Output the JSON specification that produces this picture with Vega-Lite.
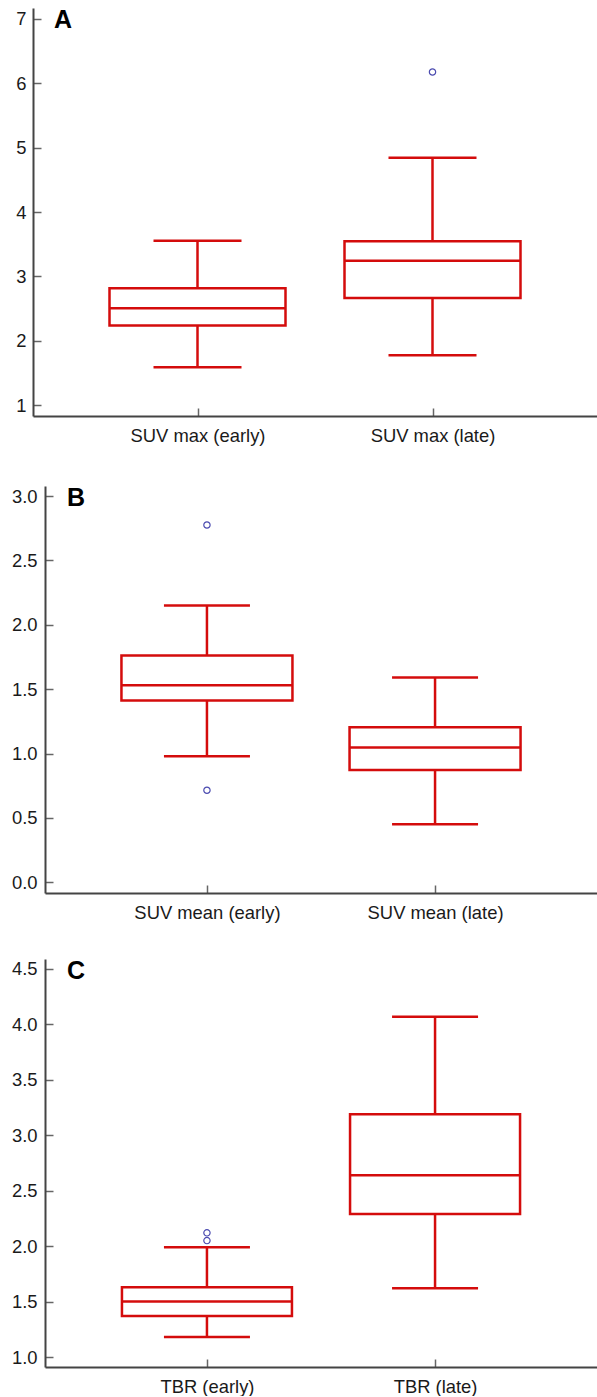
{
  "$schema": "https://vega.github.io/schema/vega-lite/v6.json",
  "padding": {"left": 3, "top": 8, "right": 0, "bottom": 0},
  "datasets": {
    "A_box": [
      {"cat": "SUV max (early)", "lower": 1.59, "q1": 2.24, "median": 2.505, "q3": 2.816, "upper": 3.555},
      {"cat": "SUV max (late)", "lower": 1.776, "q1": 2.665, "median": 3.244, "q3": 3.545, "upper": 4.843}
    ],
    "A_out": [
      {"cat": "SUV max (late)", "value": 6.173}
    ],
    "B_box": [
      {"cat": "SUV mean (early)", "lower": 0.979, "q1": 1.412, "median": 1.531, "q3": 1.762, "upper": 2.15},
      {"cat": "SUV mean (late)", "lower": 0.451, "q1": 0.873, "median": 1.047, "q3": 1.205, "upper": 1.591}
    ],
    "B_out": [
      {"cat": "SUV mean (early)", "value": 2.775},
      {"cat": "SUV mean (early)", "value": 0.715}
    ],
    "C_box": [
      {"cat": "TBR (early)", "lower": 1.18, "q1": 1.37, "median": 1.5, "q3": 1.63, "upper": 1.99},
      {"cat": "TBR (late)", "lower": 1.62, "q1": 2.29, "median": 2.64, "q3": 3.19, "upper": 4.07}
    ],
    "C_out": [
      {"cat": "TBR (early)", "value": 2.12},
      {"cat": "TBR (early)", "value": 2.05}
    ]
  },
  "concat": [
    {
      "width": 564,
      "height": 408,
      "title": {"text": "A", "anchor": "start", "frame": "group", "dx": 21, "offset": -45, "baseline": "alphabetic"},
      "data": {"name": "A_box"},
      "encoding": {
        "x": {"field": "cat", "type": "nominal", "scale": {"type": "point", "padding": 0.7, "domain": ["SUV max (early)", "SUV max (late)"]},
          "axis": {"title": null, "labelAngle": 0, "labelPadding": 18, "minExtent": 40, "maxExtent": 40}}
      },
      "resolve": {"axis": {"y": "independent"}},
      "layer": [
        {"mark": {"type": "rule", "color": "#d40c0c", "strokeWidth": 2.5},
          "encoding": {"y": {"field": "lower", "type": "quantitative", "scale": {"domain": [0.834, 7.166], "nice": false, "zero": false},
            "axis": {"title": null, "values": [1, 1.5, 2, 2.5, 3, 3.5, 4, 4.5, 5, 5.5, 6, 6.5, 7], "format": "d", "labelExpr": "datum.value % 1 === 0 ? datum.label : ''",
              "tickColor": {"condition": {"test": "datum.value % 1 !== 0", "value": "#c00000"}, "value": "#666666"},
              "tickSize": {"condition": {"test": "datum.value % 1 !== 0", "value": -4}, "value": -8},
              "labelPadding": 15, "minExtent": 30, "maxExtent": 30}},
            "y2": {"field": "q1"}}},
        {"mark": {"type": "rule", "color": "#d40c0c", "strokeWidth": 2.5},
          "encoding": {"y": {"field": "q3", "type": "quantitative", "scale": {"domain": [0.834, 7.166], "nice": false, "zero": false}, "axis": null}, "y2": {"field": "upper"}}},
        {"mark": {"type": "bar", "width": 176, "fill": "white", "stroke": "#d40c0c", "strokeWidth": 2.5},
          "encoding": {"y": {"field": "q1", "type": "quantitative", "scale": {"domain": [0.834, 7.166], "nice": false, "zero": false}, "axis": null}, "y2": {"field": "q3"}}},
        {"mark": {"type": "tick", "color": "#d40c0c", "opacity": 1, "thickness": 2.5, "size": 176, "orient": "horizontal"},
          "encoding": {"y": {"field": "median", "type": "quantitative", "scale": {"domain": [0.834, 7.166], "nice": false, "zero": false}, "axis": null}}},
        {"mark": {"type": "tick", "color": "#d40c0c", "opacity": 1, "thickness": 2.5, "size": 88, "orient": "horizontal"},
          "encoding": {"y": {"field": "upper", "type": "quantitative", "scale": {"domain": [0.834, 7.166], "nice": false, "zero": false}, "axis": null}}},
        {"mark": {"type": "tick", "color": "#d40c0c", "opacity": 1, "thickness": 2.5, "size": 88, "orient": "horizontal"},
          "encoding": {"y": {"field": "lower", "type": "quantitative", "scale": {"domain": [0.834, 7.166], "nice": false, "zero": false}, "axis": null}}},
        {"data": {"name": "A_out"},
          "mark": {"type": "point", "shape": "circle", "filled": false, "color": "#4b4bb0", "size": 40, "strokeWidth": 1.2, "opacity": 1},
          "encoding": {"y": {"field": "value", "type": "quantitative", "scale": {"domain": [0.834, 7.166], "nice": false, "zero": false}, "axis": null}}}
      ]
    },
    {
      "width": 564,
      "height": 407,
      "title": {"text": "B", "anchor": "start", "frame": "group", "dx": 34, "offset": -45, "baseline": "alphabetic"},
      "data": {"name": "B_box"},
      "encoding": {
        "x": {"field": "cat", "type": "nominal", "scale": {"type": "point", "padding": 0.71, "range": [12, 564], "domain": ["SUV mean (early)", "SUV mean (late)"]},
          "axis": {"title": null, "labelAngle": 0, "labelPadding": 18, "minExtent": 36, "maxExtent": 36}}
      },
      "resolve": {"axis": {"y": "independent"}},
      "layer": [
        {"mark": {"type": "rule", "color": "#d40c0c", "strokeWidth": 2.5},
          "encoding": {"y": {"field": "lower", "type": "quantitative", "scale": {"domain": [-0.083, 3.078], "nice": false, "zero": false},
            "axis": {"title": null, "values": [0, 0.5, 1, 1.5, 2, 2.5, 3], "format": ".1f", "labelPadding": 16, "offset": -12, "minExtent": 42, "maxExtent": 42}},
            "y2": {"field": "q1"}}},
        {"mark": {"type": "rule", "color": "#d40c0c", "strokeWidth": 2.5},
          "encoding": {"y": {"field": "q3", "type": "quantitative", "scale": {"domain": [-0.083, 3.078], "nice": false, "zero": false}, "axis": null}, "y2": {"field": "upper"}}},
        {"mark": {"type": "bar", "width": 171, "fill": "white", "stroke": "#d40c0c", "strokeWidth": 2.5},
          "encoding": {"y": {"field": "q1", "type": "quantitative", "scale": {"domain": [-0.083, 3.078], "nice": false, "zero": false}, "axis": null}, "y2": {"field": "q3"}}},
        {"mark": {"type": "tick", "color": "#d40c0c", "opacity": 1, "thickness": 2.5, "size": 171, "orient": "horizontal"},
          "encoding": {"y": {"field": "median", "type": "quantitative", "scale": {"domain": [-0.083, 3.078], "nice": false, "zero": false}, "axis": null}}},
        {"mark": {"type": "tick", "color": "#d40c0c", "opacity": 1, "thickness": 2.5, "size": 86, "orient": "horizontal"},
          "encoding": {"y": {"field": "upper", "type": "quantitative", "scale": {"domain": [-0.083, 3.078], "nice": false, "zero": false}, "axis": null}}},
        {"mark": {"type": "tick", "color": "#d40c0c", "opacity": 1, "thickness": 2.5, "size": 86, "orient": "horizontal"},
          "encoding": {"y": {"field": "lower", "type": "quantitative", "scale": {"domain": [-0.083, 3.078], "nice": false, "zero": false}, "axis": null}}},
        {"data": {"name": "B_out"},
          "mark": {"type": "point", "shape": "circle", "filled": false, "color": "#4b4bb0", "size": 40, "strokeWidth": 1.2, "opacity": 1},
          "encoding": {"y": {"field": "value", "type": "quantitative", "scale": {"domain": [-0.083, 3.078], "nice": false, "zero": false}, "axis": null}}}
      ]
    },
    {
      "width": 564,
      "height": 408,
      "title": {"text": "C", "anchor": "start", "frame": "group", "dx": 34, "offset": -45, "baseline": "alphabetic"},
      "data": {"name": "C_box"},
      "encoding": {
        "x": {"field": "cat", "type": "nominal", "scale": {"type": "point", "padding": 0.71, "range": [12, 564], "domain": ["TBR (early)", "TBR (late)"]},
          "axis": {"title": null, "labelAngle": 0, "labelPadding": 18, "minExtent": 28, "maxExtent": 28}}
      },
      "resolve": {"axis": {"y": "independent"}},
      "layer": [
        {"mark": {"type": "rule", "color": "#d40c0c", "strokeWidth": 2.5},
          "encoding": {"y": {"field": "lower", "type": "quantitative", "scale": {"domain": [0.91, 4.59], "nice": false, "zero": false},
            "axis": {"title": null, "values": [1, 1.5, 2, 2.5, 3, 3.5, 4, 4.5], "format": ".1f", "labelPadding": 16, "offset": -12, "minExtent": 42, "maxExtent": 42}},
            "y2": {"field": "q1"}}},
        {"mark": {"type": "rule", "color": "#d40c0c", "strokeWidth": 2.5},
          "encoding": {"y": {"field": "q3", "type": "quantitative", "scale": {"domain": [0.91, 4.59], "nice": false, "zero": false}, "axis": null}, "y2": {"field": "upper"}}},
        {"mark": {"type": "bar", "width": 170, "fill": "white", "stroke": "#d40c0c", "strokeWidth": 2.5},
          "encoding": {"y": {"field": "q1", "type": "quantitative", "scale": {"domain": [0.91, 4.59], "nice": false, "zero": false}, "axis": null}, "y2": {"field": "q3"}}},
        {"mark": {"type": "tick", "color": "#d40c0c", "opacity": 1, "thickness": 2.5, "size": 170, "orient": "horizontal"},
          "encoding": {"y": {"field": "median", "type": "quantitative", "scale": {"domain": [0.91, 4.59], "nice": false, "zero": false}, "axis": null}}},
        {"mark": {"type": "tick", "color": "#d40c0c", "opacity": 1, "thickness": 2.5, "size": 86, "orient": "horizontal"},
          "encoding": {"y": {"field": "upper", "type": "quantitative", "scale": {"domain": [0.91, 4.59], "nice": false, "zero": false}, "axis": null}}},
        {"mark": {"type": "tick", "color": "#d40c0c", "opacity": 1, "thickness": 2.5, "size": 86, "orient": "horizontal"},
          "encoding": {"y": {"field": "lower", "type": "quantitative", "scale": {"domain": [0.91, 4.59], "nice": false, "zero": false}, "axis": null}}},
        {"data": {"name": "C_out"},
          "mark": {"type": "point", "shape": "circle", "filled": false, "color": "#4b4bb0", "size": 40, "strokeWidth": 1.2, "opacity": 1},
          "encoding": {"y": {"field": "value", "type": "quantitative", "scale": {"domain": [0.91, 4.59], "nice": false, "zero": false}, "axis": null}}}
      ]
    }
  ],
  "columns": 1,
  "align": "none",
  "center": false,
  "spacing": 30,
  "config": {
    "view": {"stroke": null},
    "font": "Liberation Sans",
    "axis": {"domainColor": "#444444", "domainWidth": 2, "tickColor": "#666666", "tickWidth": 1.5, "tickSize": -8,
      "labelFontSize": 18.4, "labelColor": "#1a1a1a", "labelFont": "Liberation Sans", "grid": false},
    "title": {"fontSize": 25, "fontWeight": "bold", "color": "#000000", "font": "Liberation Sans"}
  }
}
